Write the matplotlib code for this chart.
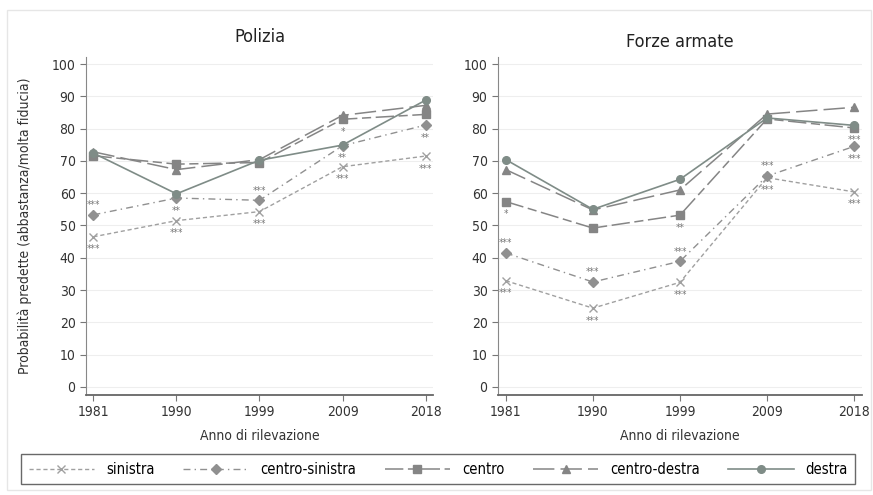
import matplotlib
matplotlib.use("Agg")
import matplotlib.pyplot as plt
from matplotlib.patches import Rectangle

plt.rcParams["font.family"] = ["DejaVu Sans"]
plt.rcParams["font.stretch"] = "condensed"

years = ["1981", "1990", "1999", "2009", "2018"]
series_names = ["sinistra", "centro-sinistra", "centro", "centro-destra", "destra"]

# Polizia
pol_sinistra = [46.5, 51.5, 54.3, 68.2, 71.5]
pol_centro_sinistra = [53.3, 58.5, 57.8, 74.7, 81.1]
pol_centro = [71.6, 69.0, 69.5, 82.9, 84.4]
pol_centro_destra = [72.8, 67.3, 70.4, 84.1, 87.2]
pol_destra = [72.4, 59.8, 70.2, 74.9, 88.8]

# Forze armate
fa_sinistra = [32.9, 24.4, 32.4, 64.8, 60.4]
fa_centro_sinistra = [41.5, 32.5, 38.9, 65.3, 74.5]
fa_centro = [57.4, 49.2, 53.2, 83.0, 80.2]
fa_centro_destra = [67.3, 54.8, 61.0, 84.5, 86.6]
fa_destra = [70.4, 55.0, 64.3, 83.3, 81.0]

# significance stars (series, year index, label, above?)
pol_stars = [
    ("centro-sinistra", 0, "***", True), ("sinistra", 0, "***", False),
    ("centro-sinistra", 1, "**", False), ("sinistra", 1, "***", False),
    ("centro-sinistra", 2, "***", True), ("sinistra", 2, "***", False),
    ("centro", 3, "*", False), ("centro-sinistra", 3, "**", False), ("sinistra", 3, "***", False),
    ("centro-sinistra", 4, "**", False), ("sinistra", 4, "***", False),
]
fa_stars = [
    ("centro", 0, "*", False), ("centro-sinistra", 0, "***", True), ("sinistra", 0, "***", False),
    ("centro-sinistra", 1, "***", True), ("sinistra", 1, "***", False),
    ("centro", 2, "**", False), ("centro-sinistra", 2, "***", True), ("sinistra", 2, "***", False),
    ("centro-sinistra", 3, "***", True), ("sinistra", 3, "***", False),
    ("centro", 4, "***", False), ("centro-sinistra", 4, "***", False), ("sinistra", 4, "***", False),
]

styles = {
    "sinistra": dict(color="#a0a0a0", ls=(0, (3, 2)), marker="x", ms=5.5, mew=1.0, lw=1.0),
    "centro-sinistra": dict(color="#909090", ls=(0, (5, 3, 1, 3)), marker="D", ms=5.5, lw=1.0),
    "centro": dict(color="#858585", ls=(0, (12, 3, 6, 3)), marker="s", ms=5.5, lw=1.1),
    "centro-destra": dict(color="#858585", ls=(0, (14, 4)), marker="^", ms=5.5, lw=1.1),
    "destra": dict(color="#7f8c87", ls="-", marker="o", ms=5.5, lw=1.2),
}

fig = plt.figure(figsize=(8.73, 4.95), dpi=100)
fig.patches.append(Rectangle((0.008, 0.01), 0.99, 0.97, transform=fig.transFigure,
                             fill=False, edgecolor="#e6e6e6", lw=1.0))

ax1 = fig.add_axes([0.0985, 0.202, 0.3975, 0.683])
ax2 = fig.add_axes([0.5704, 0.202, 0.417, 0.683])

panels = [
    (ax1, [pol_sinistra, pol_centro_sinistra, pol_centro, pol_centro_destra, pol_destra], pol_stars),
    (ax2, [fa_sinistra, fa_centro_sinistra, fa_centro, fa_centro_destra, fa_destra], fa_stars),
]

x = list(range(len(years)))
for ax, data, stars in panels:
    lookup = dict(zip(series_names, data))
    for name, vals in zip(series_names, data):
        st = styles[name]
        ax.plot(x, vals, color=st["color"], linestyle=st["ls"], marker=st["marker"],
                markersize=st["ms"], lw=st["lw"], markeredgewidth=st.get("mew", 1.0),
                label=name)
    for name, i, lab, above in stars:
        v = lookup[name][i]
        ax.annotate(lab, (i, v), xytext=(0, 7 if above else -9), textcoords="offset points",
                    ha="center", va="center", fontsize=7, color="#777777")
    ax.set_ylim(-2.5, 102.2)
    ax.set_xlim(-0.09, 4.09)
    ax.set_yticks(range(0, 101, 10))
    ax.set_xticks(x)
    ax.set_xticklabels(years)
    ax.yaxis.grid(True, color="#eeeeee", lw=0.8)
    ax.set_axisbelow(True)
    for s in ["top", "right"]:
        ax.spines[s].set_visible(False)
    ax.spines["left"].set_color("#888888")
    ax.spines["bottom"].set_color("#666666")
    ax.spines["bottom"].set_linewidth(1.3)
    ax.tick_params(labelsize=10, colors="#333333", length=4, color="#777777")
    ax.set_xlabel("Anno di rilevazione", fontsize=10, color="#333333", labelpad=7)

ax1.set_title("Polizia", fontsize=13, color="#222222", pad=11)
ax2.set_title("Forze armate", fontsize=13, color="#222222", pad=7)
ax1.set_ylabel("Probabilità predette (abbastanza/molta fiducia)", fontsize=10, color="#333333")
ax1.yaxis.set_label_coords(-0.155, 0.5)

handles, labels = ax1.get_legend_handles_labels()
leg = fig.legend(handles, labels, loc="center", ncol=5,
                 fontsize=10.5, handlelength=4.5, columnspacing=1.6, frameon=True,
                 fancybox=False, edgecolor="#444444", borderpad=0.5, mode="expand",
                 bbox_to_anchor=(0.016, 0.022, 0.972, 0.06), bbox_transform=fig.transFigure)

fig.savefig("out.png", dpi=100)
